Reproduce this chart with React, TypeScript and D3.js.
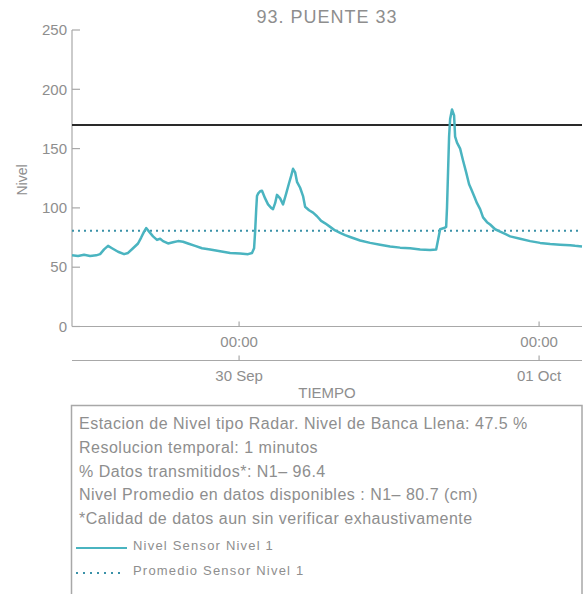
import React from "react";
import * as d3 from "d3";

// sensor readings
const times = [
  "2022-09-29 10:38", "2022-09-29 11:07", "2022-09-29 11:36", "2022-09-29 12:05", "2022-09-29 12:34",
  "2022-09-29 12:53", "2022-09-29 13:12", "2022-09-29 13:31", "2022-09-29 13:50", "2022-09-29 14:19",
  "2022-09-29 14:48", "2022-09-29 15:07", "2022-09-29 15:31", "2022-09-29 15:55", "2022-09-29 16:10",
  "2022-09-29 16:24", "2022-09-29 16:34", "2022-09-29 16:48", "2022-09-29 17:07", "2022-09-29 17:26",
  "2022-09-29 17:41", "2022-09-29 17:55", "2022-09-29 18:19", "2022-09-29 18:43", "2022-09-29 19:07",
  "2022-09-29 19:31", "2022-09-29 19:55", "2022-09-29 20:29", "2022-09-29 21:02", "2022-09-29 21:41",
  "2022-09-29 22:29", "2022-09-29 23:17", "2022-09-30 00:05", "2022-09-30 00:43", "2022-09-30 01:02",
  "2022-09-30 01:12", "2022-09-30 01:17", "2022-09-30 01:22", "2022-09-30 01:26", "2022-09-30 01:31",
  "2022-09-30 01:41", "2022-09-30 01:50", "2022-09-30 02:05", "2022-09-30 02:19", "2022-09-30 02:34",
  "2022-09-30 02:43", "2022-09-30 02:53", "2022-09-30 03:02", "2022-09-30 03:17", "2022-09-30 03:31",
  "2022-09-30 03:46", "2022-09-30 04:00", "2022-09-30 04:10", "2022-09-30 04:19", "2022-09-30 04:29",
  "2022-09-30 04:38", "2022-09-30 04:53", "2022-09-30 05:07", "2022-09-30 05:17", "2022-09-30 05:36",
  "2022-09-30 05:55", "2022-09-30 06:14", "2022-09-30 06:34", "2022-09-30 06:53", "2022-09-30 07:17",
  "2022-09-30 07:41", "2022-09-30 08:05", "2022-09-30 08:29", "2022-09-30 08:53", "2022-09-30 09:17",
  "2022-09-30 09:41", "2022-09-30 10:29", "2022-09-30 11:17", "2022-09-30 12:05", "2022-09-30 12:53",
  "2022-09-30 13:41", "2022-09-30 14:29", "2022-09-30 15:17", "2022-09-30 15:46", "2022-09-30 15:55",
  "2022-09-30 16:05", "2022-09-30 16:24", "2022-09-30 16:34", "2022-09-30 16:38", "2022-09-30 16:43",
  "2022-09-30 16:48", "2022-09-30 16:53", "2022-09-30 17:02", "2022-09-30 17:12", "2022-09-30 17:17",
  "2022-09-30 17:26", "2022-09-30 17:41", "2022-09-30 17:55", "2022-09-30 18:10", "2022-09-30 18:24",
  "2022-09-30 18:34", "2022-09-30 18:48", "2022-09-30 19:02", "2022-09-30 19:17", "2022-09-30 19:31",
  "2022-09-30 19:50", "2022-09-30 20:05", "2022-09-30 20:29", "2022-09-30 20:53", "2022-09-30 21:17",
  "2022-09-30 21:41", "2022-09-30 22:29", "2022-09-30 23:17", "2022-10-01 00:05", "2022-10-01 00:53",
  "2022-10-01 01:41", "2022-10-01 02:29", "2022-10-01 02:53", "2022-10-01 03:26",
];
const levels = [
  60, 59.5, 60.5, 59.5, 60,
  61, 65, 68, 66, 63,
  61, 62, 66, 70, 75,
  80, 83, 80, 76, 73,
  74, 72, 70, 71, 72,
  71.5, 70, 68, 66, 65,
  63.5, 62, 61.5, 61, 62,
  66, 80, 98, 110, 112,
  114, 114.5, 108, 103, 100,
  99, 104, 111, 108, 103,
  112, 121, 127, 133, 130,
  122, 117, 110, 101, 98,
  96, 93, 89, 87, 84,
  81, 79, 77, 75.5, 74,
  72.5, 70.5, 69, 67.5, 66.5,
  66, 65, 64.5, 65, 73,
  82, 83, 84, 100, 130,
  160, 175, 183, 178, 160,
  155, 150, 140, 130, 120,
  116, 110, 104, 99, 92,
  88, 86, 82, 80, 78,
  76, 74, 72, 70.5, 69.5,
  69, 68.5, 68, 67.5,
];
const yTicks = [0, 50, 100, 150, 200, 250];
const dayTicks = ["2022-09-30 00:00", "2022-10-01 00:00"];
const threshold = 170;
const average = 80.7;
const infoLines = [
  "Estacion de Nivel tipo Radar. Nivel de Banca Llena: 47.5 %",
  "Resolucion temporal: 1 minutos",
  "% Datos transmitidos*: N1\u2013 96.4",
  "Nivel Promedio en datos disponibles : N1\u2013 80.7 (cm)",
  "*Calidad de datos aun sin verificar exhaustivamente",
];
const legendLabels = ["Nivel Sensor Nivel 1", "Promedio Sensor Nivel 1"];

const parse = d3.timeParse("%Y-%m-%d %H:%M");
const FONT = "'Liberation Sans', Arial, Helvetica, sans-serif";
const GREY = "#8e8e8e";
const AXIS = "#a8a8a8";
const LINE = "#4ab4c0";
const DOTS = "#3a91a8";

const App = () => {
  const width = 585;
  const height = 594;
  const left = 72;
  const right = 582;
  const top = 30;
  const bottom = 326.5;

  const data = times.map((t, i) => ({ date: parse(t) as Date, value: levels[i] }));

  const x = d3
    .scaleTime()
    .domain(d3.extent(data, (d) => d.date) as [Date, Date])
    .range([left, right]);
  const y = d3.scaleLinear().domain([0, 250]).range([bottom, top]);

  const line = d3
    .line<{ date: Date; value: number }>()
    .x((d) => x(d.date))
    .y((d) => y(d.value));

  const axis2 = 360.5;
  const fmtDay = d3.timeFormat("%d %b");

  return (
    <div style={{ position: "absolute", left: 0, top: 0 }}>
      <svg width={width} height={height} style={{ display: "block", fontFamily: FONT }}>
        <rect width={width} height={height} fill="#fff" />
        <text x={(left + right) / 2} y={23} textAnchor="middle" fontSize={18} letterSpacing={1} fill={GREY}>
          93. PUENTE 33
        </text>

        {/* y axis */}
        <line x1={left} x2={left} y1={top} y2={bottom} stroke={AXIS} strokeWidth={1.2} />
        {yTicks.map((t) => (
          <g key={t}>
            <line x1={left} x2={left + 8} y1={y(t)} y2={y(t)} stroke={AXIS} strokeWidth={1.2} />
            <text x={67} y={y(t)} dy="0.35em" textAnchor="end" fontSize={15} fill={GREY}>
              {t}
            </text>
          </g>
        ))}
        <text
          transform={`translate(27,180) rotate(-90)`}
          textAnchor="middle"
          fontSize={14}
          fill={GREY}
        >
          Nivel
        </text>

        {/* x axes */}
        <line x1={left} x2={right} y1={bottom} y2={bottom} stroke={AXIS} strokeWidth={1.2} />
        <line x1={left} x2={right} y1={axis2} y2={axis2} stroke={AXIS} strokeWidth={1.2} />
        {dayTicks.map((t) => {
          const d = parse(t) as Date;
          return (
            <g key={t}>
              <line x1={x(d)} x2={x(d)} y1={bottom} y2={bottom - 5} stroke={AXIS} strokeWidth={1.2} />
              <line x1={x(d)} x2={x(d)} y1={axis2} y2={axis2 - 5} stroke={AXIS} strokeWidth={1.2} />
              <text x={x(d)} y={347} textAnchor="middle" fontSize={15} fill={GREY}>
                {d3.timeFormat("%H:%M")(d)}
              </text>
              <text x={x(d)} y={381} textAnchor="middle" fontSize={15} fill={GREY}>
                {fmtDay(d)}
              </text>
            </g>
          );
        })}
        <text x={(left + right) / 2} y={398} textAnchor="middle" fontSize={15} fill={GREY}>
          TIEMPO
        </text>

        {/* reference lines */}
        <line x1={left} x2={right} y1={y(threshold)} y2={y(threshold)} stroke="#2a2a2a" strokeWidth={2} />
        <line
          x1={left}
          x2={right}
          y1={y(average)}
          y2={y(average)}
          stroke={DOTS}
          strokeWidth={2}
          strokeDasharray="2,4"
        />

        {/* series */}
        <path d={line(data) ?? ""} fill="none" stroke={LINE} strokeWidth={2.5} strokeLinejoin="round" />

        {/* info box */}
        <rect x={71.5} y={405.5} width={510.5} height={200} fill="none" stroke={AXIS} strokeWidth={1.5} />
        {infoLines.map((s, i) => (
          <text key={s} x={79} y={429 + i * 23.8} fontSize={16} letterSpacing={0.5} fill={GREY}>
            {s}
          </text>
        ))}
        <line x1={76} x2={127} y1={548} y2={548} stroke={LINE} strokeWidth={2} />
        <line x1={76} x2={125} y1={573} y2={573} stroke={DOTS} strokeWidth={2} strokeDasharray="2,5" />
        {legendLabels.map((s, i) => (
          <text key={s} x={133} y={550 + i * 25} fontSize={13} letterSpacing={1.2} fill={GREY}>
            {s}
          </text>
        ))}
      </svg>
    </div>
  );
};

export default App;
